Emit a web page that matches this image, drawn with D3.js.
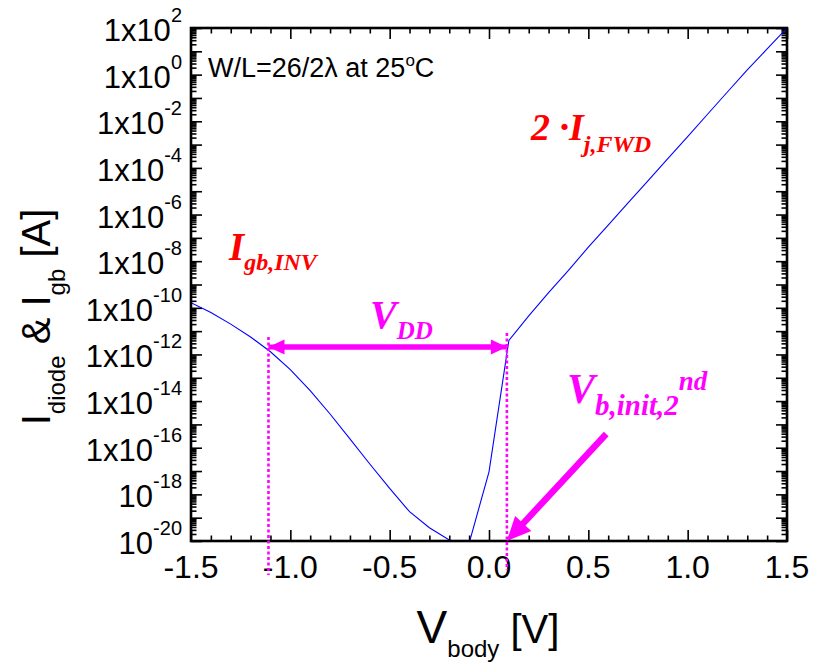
<!DOCTYPE html>
<html>
<head>
<meta charset="utf-8">
<script src="https://cdn.jsdelivr.net/npm/d3@7"></script>
<style>
  body { margin: 0; background: #fff; }
  svg { display: block; font-family: "Liberation Sans", Arial, sans-serif; }
</style>
</head>
<body>
<div id="chart"></div>
<script>
// body voltage sweep [V]
const vBody = [-1.5, -1.4, -1.3, -1.2, -1.1, -1.0, -0.9, -0.8, -0.7, -0.6, -0.5, -0.4, -0.3, -0.2, -0.1,
  0.0, 0.1, 0.2, 0.3, 0.4, 0.5, 0.6, 0.7, 0.8, 0.9, 1.0, 1.1, 1.2, 1.3, 1.4, 1.5];
// |I| [A]: gate-body current on the left, diode forward current on the right
const current = [1.66e-10, 6.3e-11, 2.0e-11, 5.6e-12, 1.3e-12, 2.25e-13, 2.8e-14, 2.8e-15, 2.4e-16, 2.0e-17,
  1.8e-18, 1.8e-19, 3.7e-20, 1.1e-20, 8e-21,
  9.3e-18, 4.0e-12, 4.5e-11, 4.5e-10, 4.0e-9, 4.0e-8, 3.5e-7, 3.2e-6, 2.8e-5, 2.5e-4, 2.2e-3,
  2.0e-2, 0.18, 1.6, 12.6, 100];

// axis ticks
const xMajor = [-1.5, -1.0, -0.5, 0.0, 0.5, 1.0, 1.5];
const xLabels = ["-1.5", "-1.0", "-0.5", "0.0", "0.5", "1.0", "1.5"];
const yLabelExp = [2, 0, -2, -4, -6, -8, -10, -12, -14, -16, -18, -20];

// annotation anchors (data units)
const vddLeft = -1.11, vddRight = 0.09, vddLevel = 2.1e-12;
const initArrowFrom = [0.59, 3.9e-16], initArrowTo = [0.09, 1e-20];

const plot = {left: 191, top: 28, right: 787, bottom: 541};

const svg = d3.select("#chart")
  .append("svg")
  .attr("width", 815)
  .attr("height", 664);

const x = d3.scaleLinear().domain([-1.5, 1.5]).range([plot.left, plot.right]);
const y = d3.scaleLog().domain([1e-20, 1e2]).range([plot.bottom, plot.top]);

// minor ticks
const xMinor = d3.range(-15, 16).map(d => d / 10).filter(d => !xMajor.some(m => Math.abs(m - d) < 1e-9));
const yMajor = d3.range(-20, 3).map(e => Math.pow(10, e));
const yMinor = [];
for (let e = -20; e < 2; e++) for (let m = 2; m <= 9; m++) yMinor.push(m * Math.pow(10, e));

function drawAxis(axis, tr) {
  const g = svg.append("g").attr("transform", tr).call(axis);
  g.select(".domain").remove();
  g.selectAll("text").remove();
  g.selectAll("line").attr("stroke", "#000").attr("stroke-width", 1.6);
}

drawAxis(d3.axisBottom(x).tickValues(xMajor).tickSize(-11), `translate(0,${plot.bottom})`);
drawAxis(d3.axisBottom(x).tickValues(xMinor).tickSize(-5.5), `translate(0,${plot.bottom})`);
drawAxis(d3.axisTop(x).tickValues(xMajor).tickSize(-11), `translate(0,${plot.top})`);
drawAxis(d3.axisTop(x).tickValues(xMinor).tickSize(-5.5), `translate(0,${plot.top})`);
drawAxis(d3.axisLeft(y).tickValues(yMajor).tickSize(-11), `translate(${plot.left},0)`);
drawAxis(d3.axisLeft(y).tickValues(yMinor).tickSize(-5.5), `translate(${plot.left},0)`);
drawAxis(d3.axisRight(y).tickValues(yMajor).tickSize(-11), `translate(${plot.right},0)`);
drawAxis(d3.axisRight(y).tickValues(yMinor).tickSize(-5.5), `translate(${plot.right},0)`);

// tick labels
svg.append("g").selectAll("text")
  .data(xMajor)
  .join("text")
  .attr("x", d => x(d))
  .attr("y", plot.bottom + 37)
  .attr("text-anchor", "middle")
  .attr("font-size", 32)
  .text((d, i) => xLabels[i]);

const yl = svg.append("g").selectAll("text")
  .data(yLabelExp)
  .join("text")
  .attr("x", plot.left - 9)
  .attr("y", d => y(Math.pow(10, d)) + 13)
  .attr("text-anchor", "end")
  .attr("font-size", 31);
yl.append("tspan").text(d => d <= -18 ? "10" : "1x10");
yl.append("tspan").attr("dy", -19).attr("font-size", 20).text(d => d);

// curve
svg.append("clipPath").attr("id", "clip")
  .append("rect")
  .attr("x", plot.left).attr("y", plot.top)
  .attr("width", plot.right - plot.left).attr("height", plot.bottom - plot.top);

const line = d3.line()
  .x((d, i) => x(vBody[i]))
  .y(d => y(d));

svg.append("path")
  .datum(current)
  .attr("clip-path", "url(#clip)")
  .attr("fill", "none")
  .attr("stroke", "#0000ff")
  .attr("stroke-width", 1.1)
  .attr("d", line);

// frame
svg.append("rect")
  .attr("x", plot.left).attr("y", plot.top)
  .attr("width", plot.right - plot.left).attr("height", plot.bottom - plot.top)
  .attr("fill", "none")
  .attr("stroke", "#000")
  .attr("stroke-width", 2.6);

// axis titles
const xt = svg.append("text")
  .attr("x", 488).attr("y", 643)
  .attr("text-anchor", "middle")
  .attr("font-size", 40);
xt.append("tspan").attr("font-size", 46).text("V");
xt.append("tspan").attr("font-size", 24).attr("dy", 14).text("body");
xt.append("tspan").attr("dy", -14).text(" [V]");

const yt = svg.append("text")
  .attr("transform", "translate(50,317) rotate(-90)")
  .attr("text-anchor", "middle")
  .attr("font-size", 40);
yt.append("tspan").text("I");
yt.append("tspan").attr("font-size", 24).attr("dy", 15).text("diode");
yt.append("tspan").attr("dy", -15).text(" & I");
yt.append("tspan").attr("font-size", 24).attr("dy", 15).text("gb");
yt.append("tspan").attr("dy", -15).text(" [A]");

// condition text
const cond = svg.append("text")
  .attr("x", 208).attr("y", 77)
  .attr("font-size", 27);
cond.append("tspan").text("W/L=26/2λ at 25");
cond.append("tspan").attr("font-size", 17).attr("dy", -11).text("o");
cond.append("tspan").attr("dy", 11).text("C");

// annotations
const magenta = "#ff00ff", red = "#ff0000";
const serif = "'Liberation Serif', 'Times New Roman', serif";

function label(px, py, size, color, parts) {
  const t = svg.append("text")
    .attr("x", px).attr("y", py)
    .attr("font-family", serif)
    .attr("font-weight", "bold")
    .attr("font-style", "italic")
    .attr("font-size", size)
    .attr("fill", color);
  parts.forEach(p => {
    const s = t.append("tspan").text(p.t);
    if (p.size) s.attr("font-size", p.size);
    if (p.dy) s.attr("dy", p.dy);
  });
}

label(229, 260, 39, red, [{t: "I"}, {t: "gb,INV", size: 24, dy: 10}]);
label(531, 140, 38, red, [{t: "2 ·I"}, {t: "j,FWD", size: 24, dy: 12}]);
label(370, 328, 40, magenta, [{t: "V"}, {t: "DD", size: 25, dy: 11}]);
label(567, 403, 42, magenta, [{t: "V"}, {t: "b,init,2", size: 29, dy: 12}, {t: "nd", size: 27, dy: -25}]);

// dotted markers
[[vddLeft, 10, 34], [vddRight, 14, 29]].forEach(([v, up, down]) => {
  svg.append("line")
    .attr("x1", x(v)).attr("x2", x(v))
    .attr("y1", y(vddLevel) - up).attr("y2", plot.bottom + down)
    .attr("stroke", magenta)
    .attr("stroke-width", 2.6)
    .attr("stroke-dasharray", "3,2.5");
});

function arrowHead(tip, from, len, half) {
  const dx = tip[0] - from[0], dy = tip[1] - from[1];
  const l = Math.hypot(dx, dy), ux = dx / l, uy = dy / l;
  const bx = tip[0] - ux * len, by = tip[1] - uy * len;
  return [tip, [bx - uy * half, by + ux * half], [bx + uy * half, by - ux * half]];
}

function arrow(from, tip, width, len, half) {
  const dx = tip[0] - from[0], dy = tip[1] - from[1];
  const l = Math.hypot(dx, dy);
  const end = [tip[0] - dx / l * (len - 2), tip[1] - dy / l * (len - 2)];
  svg.append("line")
    .attr("x1", from[0]).attr("y1", from[1])
    .attr("x2", end[0]).attr("y2", end[1])
    .attr("stroke", magenta)
    .attr("stroke-width", width);
  svg.append("polygon")
    .attr("points", arrowHead(tip, from, len, half).map(p => p.join(",")).join(" "))
    .attr("fill", magenta);
}

// V_DD double arrow
const ay = y(vddLevel);
const lp = [x(vddLeft), ay], rp = [x(vddRight), ay];
arrow(rp, lp, 5, 16, 7.5);
arrow(lp, rp, 5, 16, 7.5);

// arrow to initial body voltage
arrow([x(initArrowFrom[0]), y(initArrowFrom[1])], [x(initArrowTo[0]), y(initArrowTo[1])], 6.5, 24, 11);
</script>
</body>
</html>
